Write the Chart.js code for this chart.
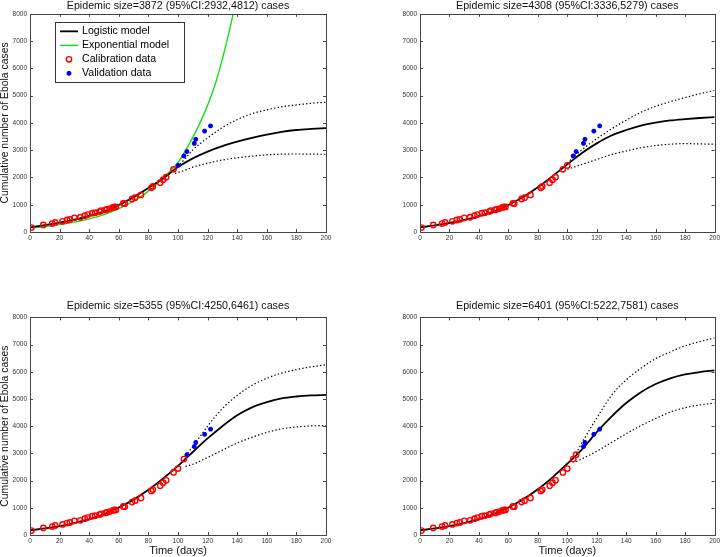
<!DOCTYPE html>
<html>
<head>
<meta charset="utf-8">
<title>Ebola epidemic size</title>
<script src="https://cdn.jsdelivr.net/npm/chart.js@4.4.0/dist/chart.umd.min.js"></script>
<style>
  body { margin: 0; background: #fff; }
  #wrap { position: relative; width: 722px; height: 557px; overflow: hidden; }
  canvas { position: absolute; }
</style>
</head>
<body>
<div id="wrap">
  <canvas id="c1" width="361" height="277" style="left:0;top:0"></canvas>
  <canvas id="c2" width="361" height="277" style="left:361px;top:0"></canvas>
  <canvas id="c3" width="361" height="280" style="left:0;top:277px"></canvas>
  <canvas id="c4" width="361" height="280" style="left:361px;top:277px"></canvas>
</div>
<script>
// observed cumulative cases
var days = [1, 9, 15, 17, 22, 25, 27, 30, 34, 37, 39, 42, 44, 47, 48, 51, 52, 54, 56, 57,
            58, 63, 64, 69, 71, 75, 82, 83, 88, 90, 92, 97, 100, 104, 106, 111, 112, 118, 122];
var cases = [163, 260, 310, 350, 390, 440, 460, 520, 540, 600, 640, 690, 710, 750, 780, 810, 830, 860, 900, 920,
             920, 1050, 1040, 1210, 1260, 1360, 1620, 1670, 1810, 1920, 2010, 2300, 2440, 2790, 2950, 3250, 3400, 3700, 3890];
// how many of the points above were used for calibration in each panel
var calibrationCount = [32, 33, 34, 35];

var titles = [
  'Epidemic size=3872 (95%CI:2932,4812) cases',
  'Epidemic size=4308 (95%CI:3336,5279) cases',
  'Epidemic size=5355 (95%CI:4250,6461) cases',
  'Epidemic size=6401 (95%CI:5222,7581) cases'
];

// fitted logistic curves
var modelDays = [0, 10, 20, 30, 40, 50, 60, 70, 80, 90, 100, 110, 120, 130, 140, 150, 160, 170, 180, 190, 200];
var logistic1 = [170, 250, 340, 450, 590, 760, 990, 1280, 1610, 1970, 2380, 2700, 2950, 3150, 3310, 3450, 3570, 3670, 3740, 3780, 3810];
var logistic2 = [170, 240, 330, 440, 580, 760, 990, 1280, 1640, 2050, 2480, 2900, 3250, 3540, 3740, 3900, 4010, 4090, 4140, 4180, 4210];
var logistic3 = [170, 240, 330, 440, 580, 770, 1010, 1300, 1660, 2080, 2540, 3050, 3550, 4000, 4400, 4690, 4880, 5020, 5090, 5130, 5150];
var logistic4 = [170, 240, 330, 440, 580, 770, 1010, 1310, 1680, 2120, 2620, 3150, 3780, 4350, 4850, 5250, 5550, 5760, 5900, 5990, 6050];

// exponential model (first panel only)
var expDays = [0, 10, 20, 30, 40, 50, 60, 70, 80, 90, 95, 100, 105, 110, 115, 120, 125, 130, 135, 140];
var expCases = [150, 200, 270, 360, 480, 640, 860, 1130, 1500, 2000, 2250, 2550, 2980, 3470, 4020, 4650, 5400, 6350, 7450, 8700];

// 95% bands
var ciDays1 = [98, 105, 110, 120, 130, 140, 150, 160, 170, 180, 190, 200];
var upper1 = [2300, 2700, 3010, 3450, 3830, 4120, 4340, 4480, 4590, 4660, 4720, 4760];
var lower1 = [2150, 2270, 2380, 2520, 2640, 2720, 2780, 2830, 2855, 2860, 2855, 2850];
var ciDays2 = [100, 105, 110, 120, 130, 140, 150, 160, 170, 180, 190, 200];
var upper2 = [2520, 2790, 3020, 3420, 3780, 4100, 4390, 4610, 4780, 4930, 5070, 5190];
var lower2 = [2300, 2390, 2480, 2660, 2840, 2970, 3090, 3170, 3220, 3240, 3230, 3220];
var ciDays3 = [105, 110, 120, 130, 140, 150, 160, 170, 180, 190, 200];
var upper3 = [2900, 3250, 4000, 4650, 5130, 5500, 5760, 5950, 6080, 6180, 6260];
var lower3 = [2520, 2600, 2850, 3120, 3380, 3590, 3770, 3900, 3970, 4010, 4020];
var ciDays4 = [106, 110, 120, 130, 140, 150, 160, 170, 180, 190, 200];
var upper4 = [3000, 3400, 4300, 5130, 5700, 6130, 6480, 6730, 6950, 7110, 7240];
var lower4 = [2700, 2800, 3080, 3400, 3720, 4020, 4280, 4520, 4680, 4780, 4850];

var xTicks = [0, 200, 20];
var yTicks = [0, 8000, 1000];

Chart.defaults.font.family = '"Liberation Sans", Arial, Helvetica, sans-serif';
Chart.defaults.color = '#333';

function pts(xs, ys) {
  return xs.map(function (x, i) { return { x: x, y: ys[i] }; });
}

// MATLAB-like box with inward ticks on all four sides
var framePlugin = {
  id: 'frame',
  afterDatasetsDraw: function (chart) {
    var a = chart.chartArea, ctx = chart.ctx;
    var sx = chart.scales.x, sy = chart.scales.y;
    ctx.save();
    ctx.strokeStyle = '#444';
    ctx.lineWidth = 1;
    ctx.strokeRect(Math.round(a.left) + 0.5, Math.round(a.top) + 0.5,
                   Math.round(a.right - a.left), Math.round(a.bottom - a.top));
    ctx.beginPath();
    sx.ticks.forEach(function (t) {
      var px = Math.round(sx.getPixelForValue(t.value)) + 0.5;
      ctx.moveTo(px, a.bottom); ctx.lineTo(px, a.bottom - 3);
      ctx.moveTo(px, a.top); ctx.lineTo(px, a.top + 3);
    });
    sy.ticks.forEach(function (t) {
      var py = Math.round(sy.getPixelForValue(t.value)) + 0.5;
      ctx.moveTo(a.left, py); ctx.lineTo(a.left + 3, py);
      ctx.moveTo(a.right, py); ctx.lineTo(a.right - 3, py);
    });
    ctx.stroke();
    ctx.restore();
  }
};

// boxed legend in the upper left of the first panel
var legendBoxPlugin = {
  id: 'legendBox',
  afterDraw: function (chart, args, opts) {
    if (!opts.items) return;
    var ctx = chart.ctx, a = chart.chartArea;
    var x = a.left + 25, y = a.top + 8.5, w = 129, h = 60;
    ctx.save();
    ctx.fillStyle = '#fff';
    ctx.fillRect(x, y, w, h);
    ctx.strokeStyle = '#333';
    ctx.lineWidth = 1;
    ctx.strokeRect(Math.round(x) + 0.5, Math.round(y) + 0.5, w, h);
    ctx.font = '10.6px "Liberation Sans", Arial, sans-serif';
    ctx.textBaseline = 'middle';
    opts.items.forEach(function (item, i) {
      var ds = chart.data.datasets[item.index];
      var cy = y + 9 + i * 14;
      ctx.strokeStyle = ds.borderColor;
      ctx.lineWidth = ds.borderWidth;
      if (ds.showLine) {
        ctx.beginPath();
        ctx.moveTo(x + 5, cy);
        ctx.lineTo(x + 23, cy);
        ctx.stroke();
      } else {
        ctx.fillStyle = 'rgba(0,0,0,0)';
        Chart.helpers.drawPoint(ctx, { pointStyle: ds.pointStyle, radius: ds.pointRadius, borderWidth: ds.borderWidth, rotation: 0 }, x + 14, cy);
      }
      ctx.fillStyle = '#000';
      ctx.fillText(item.label, x + 27, cy);
    });
    ctx.restore();
  }
};

function makePanel(id, n, cfg) {
  var cut = calibrationCount[n];
  var datasets = [
    { label: 'Calibration data', data: pts(days.slice(0, cut), cases.slice(0, cut)), showLine: false,
      pointStyle: 'circle', pointRadius: 2.7, borderWidth: 1.4, borderColor: '#ff0000', backgroundColor: 'rgba(0,0,0,0)' },
    { label: 'Validation data', data: pts(days.slice(cut), cases.slice(cut)), showLine: false,
      pointStyle: 'star', pointRadius: 2.4, borderWidth: 1.6, borderColor: '#0000ee', backgroundColor: '#0000ee' },
    { label: 'Logistic model', data: pts(modelDays, cfg.logistic), showLine: true, pointRadius: 0,
      borderColor: '#000', borderWidth: 1.8, cubicInterpolationMode: 'monotone' },
    { label: 'Upper 95%', data: pts(cfg.ciDays, cfg.upper), showLine: true, pointRadius: 0,
      borderColor: '#000', borderWidth: 1.2, borderDash: [1.4, 2.2], cubicInterpolationMode: 'monotone' },
    { label: 'Lower 95%', data: pts(cfg.ciDays, cfg.lower), showLine: true, pointRadius: 0,
      borderColor: '#000', borderWidth: 1.2, borderDash: [1.4, 2.2], cubicInterpolationMode: 'monotone' }
  ];
  var legendItems = null;
  if (cfg.exponential) {
    datasets.push({ label: 'Exponential model', data: pts(expDays, expCases), showLine: true, pointRadius: 0,
      borderColor: '#14dc14', borderWidth: 1.4, cubicInterpolationMode: 'monotone' });
    legendItems = [
      { index: 2, label: 'Logistic model' },
      { index: 5, label: 'Exponential model' },
      { index: 0, label: 'Calibration data' },
      { index: 1, label: 'Validation data' }
    ];
  }

  return new Chart(document.getElementById(id), {
    type: 'scatter',
    data: { datasets: datasets },
    options: {
      responsive: false,
      devicePixelRatio: 1,
      animation: false,
      events: [],
      layout: { padding: { left: 0, right: cfg.padRight, top: 0, bottom: 0 } },
      plugins: {
        legend: { display: false },
        tooltip: { enabled: false },
        title: {
          display: true,
          fullSize: false,
          text: titles[n],
          color: '#111',
          font: { size: 10.7, weight: 'normal' },
          padding: cfg.titlePad
        },
        legendBox: { items: legendItems }
      },
      scales: {
        x: {
          type: 'linear', min: xTicks[0], max: xTicks[1],
          grid: { display: false, drawTicks: false },
          border: { display: false },
          ticks: { stepSize: xTicks[2], font: { size: 6.5 }, padding: 2, maxRotation: 0,
                   callback: function (v) { return String(v); } },
          title: { display: cfg.xTitle, text: 'Time (days)', color: '#111',
                   font: { size: 11, lineHeight: 1 }, padding: { top: 0, bottom: 0.5 } },
          afterFit: function (s) { s.height = cfg.xHeight; }
        },
        y: {
          type: 'linear', min: yTicks[0], max: yTicks[1],
          grid: { display: false, drawTicks: false },
          border: { display: false },
          ticks: { stepSize: yTicks[2], font: { size: 6.5 }, padding: 3,
                   callback: function (v) { return String(v); } },
          title: { display: cfg.yTitle, text: 'Cumulative number of Ebola cases', color: '#111',
                   font: { size: 10.4, lineHeight: 1 }, padding: 0 },
          afterFit: function (s) { s.width = cfg.yWidth; }
        }
      }
    },
    plugins: [framePlugin, legendBoxPlugin]
  });
}

makePanel('c1', 0, { logistic: logistic1, ciDays: ciDays1, upper: upper1, lower: lower1, exponential: true,
  yTitle: true, xTitle: false, yWidth: 30, padRight: 35, xHeight: 45, titlePad: { top: 0, bottom: 1 } });
makePanel('c2', 1, { logistic: logistic2, ciDays: ciDays2, upper: upper2, lower: lower2,
  yTitle: false, xTitle: false, yWidth: 59, padRight: 6, xHeight: 45, titlePad: { top: 0, bottom: 1 } });
makePanel('c3', 2, { logistic: logistic3, ciDays: ciDays3, upper: upper3, lower: lower3,
  yTitle: true, xTitle: true, yWidth: 30, padRight: 35, xHeight: 22, titlePad: { top: 23, bottom: 4.5 } });
makePanel('c4', 3, { logistic: logistic4, ciDays: ciDays4, upper: upper4, lower: lower4,
  yTitle: false, xTitle: true, yWidth: 59, padRight: 6, xHeight: 22, titlePad: { top: 23, bottom: 4.5 } });
</script>
</body>
</html>
